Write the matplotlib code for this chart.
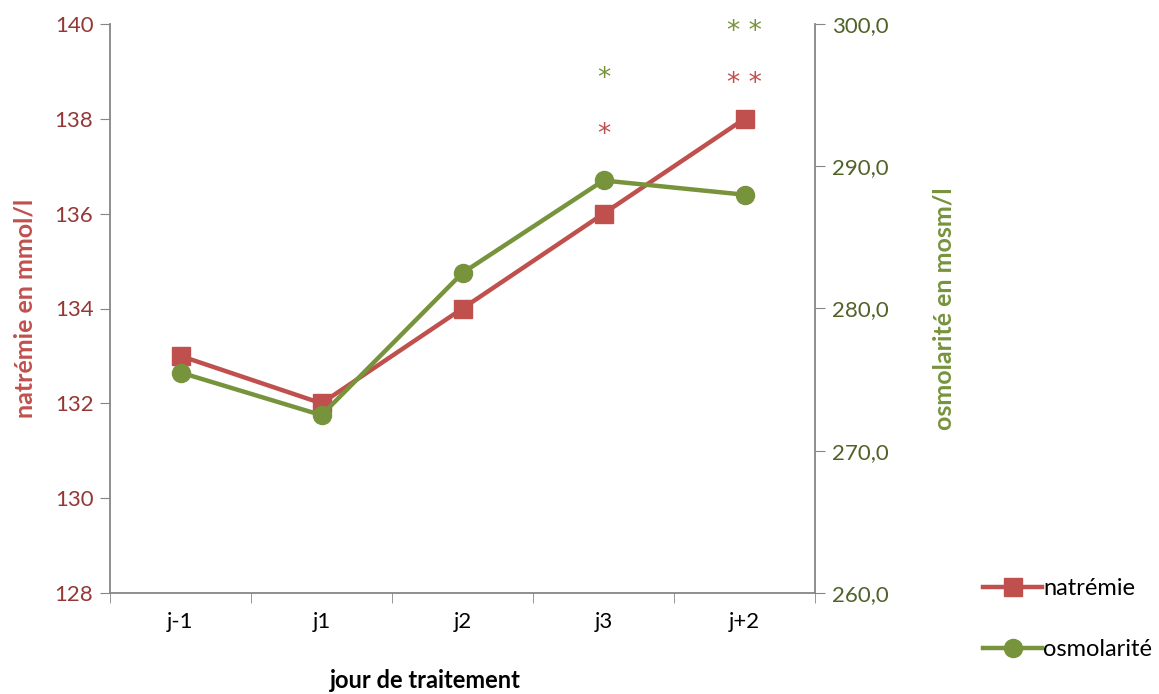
import matplotlib
matplotlib.use("Agg")
import matplotlib.pyplot as plt
from matplotlib.lines import Line2D

plt.rcParams['font.family'] = ['Lato', 'DejaVu Sans']

categories = ["j-1", "j1", "j2", "j3", "j+2"]
natremie = [133, 132, 134, 136, 138]
osmolarite = [275.5, 272.5, 282.5, 289.0, 288.0]
left_ticks = [128, 130, 132, 134, 136, 138, 140]
right_ticks = [260, 270, 280, 290, 300]
red_stars = [("j3", 137.8, "*"), ("j+2", 138.88, "* *")]
green_stars = [("j3", 138.99, "*"), ("j+2", 139.98, "* *")]

RED = "#C0504D"
GREEN = "#77933C"
RED_TXT = "#953735"
GREEN_TXT = "#4F6228"
GRAY = "#868686"

fig = plt.figure(figsize=(11.59, 6.94), dpi=100)
ax = fig.add_axes([110/1159, 101/694, 705/1159, 569/694])
ax2 = ax.twinx()

x = list(range(len(categories)))
ax.plot(x, natremie, color=RED, lw=3.2, marker="s", ms=13, zorder=3)
ax2.plot(x, osmolarite, color=GREEN, lw=3.2, marker="o", ms=13, zorder=3)

ax.set_xlim(-0.5, len(categories) - 0.5)
ax.set_ylim(128, 140)
ax2.set_ylim(260, 300)
ax.set_yticks(left_ticks)
ax.set_yticklabels([str(t) for t in left_ticks])
ax2.set_yticks(right_ticks)
ax2.set_yticklabels([f"{t:.1f}".replace(".", ",") for t in right_ticks])

ax.set_xticks(x)
ax.set_xticklabels(categories)
ax.set_xticks([i - 0.5 for i in range(len(categories) + 1)], minor=True)
ax.tick_params(axis="x", which="major", length=0, labelsize=16, pad=14, colors="black")
ax.tick_params(axis="x", which="minor", length=7, color=GRAY, direction="out")
ax.tick_params(axis="y", length=7, color=GRAY, labelsize=16, labelcolor=RED_TXT, pad=5)
ax2.tick_params(axis="y", length=7, color=GRAY, labelsize=16, labelcolor=GREEN_TXT, pad=5)

for a in (ax, ax2):
    for s in a.spines.values():
        s.set_color(GRAY)
        s.set_linewidth(1.3)
    a.spines["top"].set_visible(False)
ax.spines["right"].set_visible(False)
ax2.spines["left"].set_visible(False)
ax2.spines["bottom"].set_visible(False)

ax.set_ylabel("natrémie en mmol/l", color=RED, fontsize=18, fontweight="bold", labelpad=13)
ax2.set_ylabel("osmolarité en mosm/l", color=GREEN, fontsize=18, fontweight="bold", labelpad=32)
fig.text(425/1159, 1 - 681/694, "jour de traitement", fontsize=17, fontweight="bold",
         ha="center", va="center")

star_font = ["DejaVu Sans"]
for cat, yv, s in red_stars:
    ax.annotate(s, (categories.index(cat), yv), xytext=(0, -5), textcoords="offset points",
                color=RED, fontsize=19, ha="center", va="center", family=star_font)
for cat, yv, s in green_stars:
    ax.annotate(s, (categories.index(cat), yv), xytext=(0, -5), textcoords="offset points",
                color=GREEN, fontsize=19, ha="center", va="center", family=star_font,
                annotation_clip=False)

handles = [Line2D([], [], color=RED, lw=3.2, marker="s", ms=13),
           Line2D([], [], color=GREEN, lw=3.2, marker="o", ms=13)]
fig.legend(handles, ["natrémie", "osmolarité"], loc="center left",
           bbox_to_anchor=(962/1159, 1 - 619/694), frameon=False, fontsize=17,
           handlelength=2.5, handletextpad=0.05, labelspacing=1.7)

fig.savefig("out.png", dpi=100)
